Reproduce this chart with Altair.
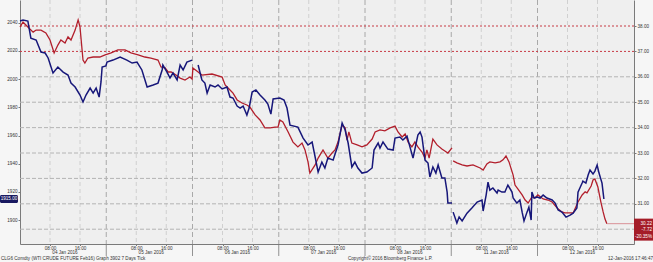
import altair as alt
import pandas as pd

# ---------------- data (hours from start of 04 Jan session; 23h per session) ----------------
blue_t = [0, 0.8, 2.1, 2.9, 4.3, 5.6, 6.7, 7.5, 8.8, 10.1, 11.5, 12.8, 13.6, 14.7, 16.0, 16.8, 17.6, 18.7, 19.5, 20.3,
          21.1, 21.6, 21.9, 22.9, 23.2, 24.8, 26.7, 28.5, 29.9, 31.2, 32.5, 33.9, 35.5, 36.8, 37.9, 38.1, 39.2, 40.0,
          40.8, 41.9, 42.7, 43.5, 44.5, 45.9,
          47.5, 48.5, 49.3, 49.9, 50.7, 52.0, 52.8, 53.9, 55.2, 56.0, 56.8, 57.9, 58.7, 59.5, 60.5, 61.1, 61.9, 62.9,
          64.0, 65.3, 66.1, 66.9, 67.5, 69.3, 70.4, 71.2, 72.0, 74.1, 75.5, 76.8, 77.9, 78.7, 79.5, 80.5, 81.3, 82.1,
          83.5, 84.8, 85.9, 86.7, 87.5, 88.5, 89.3, 90.1, 91.2, 92.5, 93.9, 94.4, 95.5, 96.0, 96.8, 98.1, 99.5, 100.0,
          101.3, 102.1, 103.2, 104.0, 104.8, 106.1, 106.7, 107.2, 108.0, 108.8, 109.3, 110.1, 110.9, 111.5, 112.5,
          113.3, 113.9, 114.1, 115.2,
          115.5, 116.5, 117.1, 117.9, 119.2, 120.5, 121.9, 123.2, 123.5, 124.3, 124.8, 125.3, 126.1, 127.2, 127.5,
          128.5, 129.3, 130.1, 131.2, 131.5, 132.5, 133.3, 133.9, 134.4, 135.2, 135.7, 136.3, 136.5, 137.1, 137.9,
          138.7, 139.5, 140.5, 141.9, 142.7, 143.5, 144.5, 145.6, 146.7, 147.5, 148.5, 148.8, 149.3, 149.9, 150.1,
          150.9, 151.5, 152.0, 152.8, 153.3, 153.9, 154.4, 155.2, 155.7]
blue_v = [2041.2, 2041.9, 2041.2, 2029.1, 2027.7, 2019.2, 2018.5, 2015.0, 2004.3, 2008.6, 2005.0, 2002.9, 1997.2,
          1994.4, 1988.7, 1983.8, 1988.7, 1993.7, 1990.1, 1993.7, 1987.3, 1998.0, 2008.6, 2009.3, 2012.1, 2013.5,
          2015.7, 2013.5, 2011.4, 2012.1, 2006.5, 1994.4, 1995.8, 1997.2, 2006.5, 2010.0, 2005.0, 2000.8, 2004.3,
          1999.4, 2010.0, 2006.5, 2012.1, 2013.5,
          2010.0, 1999.4, 1997.2, 1990.1, 1995.8, 1994.4, 1995.8, 1993.0, 1994.4, 1987.3, 1986.6, 1980.9, 1979.5,
          1980.9, 1974.5, 1979.5, 1990.8, 1992.3, 1988.7, 1985.2, 1982.3, 1975.2, 1985.9, 1986.6, 1985.2, 1979.5,
          1967.4, 1966.0, 1958.2, 1953.3, 1955.4, 1944.8, 1934.1, 1941.2, 1937.0, 1944.0, 1942.6, 1953.3, 1968.9,
          1963.9, 1954.7, 1937.7, 1941.2, 1937.0, 1933.4, 1934.1, 1937.0, 1949.7, 1954.7, 1951.1, 1955.4, 1950.4,
          1949.7, 1958.2, 1958.9, 1956.8, 1959.6, 1951.8, 1944.0, 1960.4, 1962.5, 1958.9, 1942.6, 1940.5, 1930.6,
          1937.7, 1933.4, 1939.1, 1929.9, 1929.9, 1919.9, 1912.1, 1912.1,
          1905.7, 1898.0, 1902.2, 1899.4, 1905.0, 1908.6, 1912.8, 1914.3, 1906.5, 1917.8, 1927.0, 1921.3, 1922.8,
          1919.2, 1921.3, 1919.9, 1919.9, 1924.9, 1919.9, 1915.7, 1912.1, 1914.3, 1905.7, 1899.4, 1905.7, 1909.3,
          1900.1, 1919.9, 1915.7, 1916.4, 1915.7, 1917.8, 1915.7, 1914.3, 1912.1, 1907.2, 1905.7, 1902.2, 1903.6,
          1905.0, 1908.6, 1919.9, 1922.8, 1926.3, 1927.7, 1926.3, 1932.0, 1935.5, 1932.7, 1934.8, 1939.1, 1933.4,
          1926.3, 1915.0]
blue_gap_after = [45.9, 115.2]

red_t = [0, 0.8, 2.1, 3.5, 4.3, 5.6, 6.9, 8.0, 9.1, 10.1, 10.9, 12.0, 12.8, 13.6, 14.7, 15.5, 16.0, 16.8, 17.3, 18.1,
         19.5, 21.3, 22.7,
         24.3, 26.1, 28.0, 29.6, 31.5, 33.3, 34.9, 36.8, 37.6, 38.7, 39.5, 40.3, 41.6, 42.7, 44.0, 45.3, 45.9,
         46.1, 47.5, 48.5, 51.2, 53.9, 54.7, 56.0, 56.8, 57.9, 59.2, 60.5, 61.3, 62.7, 64.0, 65.3, 66.7, 68.0, 68.8,
         69.3, 70.1, 71.5, 72.8, 74.1, 75.2, 76.0, 76.8, 77.3, 78.7, 79.5, 80.8, 82.1, 83.2, 84.0, 84.8, 85.9, 86.7,
         87.2, 87.7, 88.5, 89.9, 91.2, 92.5, 93.9, 94.7, 96.0, 97.3, 98.7, 100.0, 100.8, 101.9, 102.7, 103.5, 104.5,
         105.3, 106.1, 107.2, 108.0, 108.5, 109.1, 110.1, 111.2, 112.5, 113.3, 114.1, 115.2,
         115.5, 116.5, 117.9, 119.2, 120.8, 122.7, 123.5, 124.5, 125.3, 126.7, 128.0, 128.8, 129.6, 130.4, 131.5,
         132.0, 132.8, 133.9, 134.7, 135.5, 136.5, 137.3, 138.1, 139.5, 140.8, 141.9, 143.2, 144.5, 145.3, 146.7,
         147.5, 148.8, 149.9, 150.7, 151.2, 152.3, 152.8, 153.3, 154.1, 154.9, 155.5, 156.0, 156.5]
red_v = [37.96, 38.16, 37.96, 37.76, 37.84, 37.84, 37.73, 37.45, 36.94, 37.25, 37.45, 37.33, 37.57, 37.45, 37.84,
         38.24, 37.96, 36.66, 36.54, 36.74, 36.78, 36.78, 36.86,
         36.94, 37.06, 37.06, 36.94, 36.86, 36.78, 36.74, 36.66, 36.39, 36.35, 36.19, 36.19, 36.07, 35.95, 35.87,
         35.99, 35.91,
         36.35, 36.19, 36.07, 36.11, 35.99, 35.68, 35.48, 35.36, 35.09, 34.97, 34.89, 34.81, 34.50, 34.30, 33.99,
         33.99, 34.02, 34.02, 34.30, 34.22, 33.83, 33.43, 33.24, 33.39, 33.12, 32.65, 32.21, 32.53, 32.80, 33.12,
         32.80, 33.00, 33.12, 33.43, 34.10, 33.99, 33.51, 33.83, 33.39, 33.32, 33.24, 33.32, 33.55, 33.83, 33.91,
         33.87, 33.99, 34.06, 33.83, 33.63, 33.75, 33.43, 33.24, 33.43, 33.24, 33.04, 32.80, 33.12, 32.80, 33.55,
         33.32, 33.16, 33.08, 33.00, 33.20,
         32.69, 32.61, 32.53, 32.49, 32.53, 32.41, 32.33, 32.57, 32.65, 32.61, 32.65, 32.73, 32.88, 32.65, 32.13,
         31.74, 31.58, 31.35, 31.15, 31.03, 31.27, 31.23, 31.35, 31.19, 31.15, 31.07, 30.84, 30.68, 30.64, 30.64,
         30.64, 31.07, 31.35, 31.47, 31.43, 31.70, 31.94, 31.98, 31.66, 31.07, 30.68, 30.40, 30.22]
red_gap_after = [115.2]

last_t = [156.5, 163.73]
last_red = [30.22, 30.22]

blue_last = [1915.0]
blue_last_label = ["1915.00"]
red_last = [30.22]
red_last_label = ["30.22\n-7.72\n-20.35%"]

tick_t = [8, 16, 31, 39, 54, 62, 77, 85, 100, 108, 123, 131, 146, 154]
day_start = [23, 46, 69, 92, 115, 138]
day_mid = [12, 35, 58, 81, 104, 127, 150]
day_labels = ["04 Jan 2016", "05 Jan 2016", "06 Jan 2016", "07 Jan 2016",
              "08 Jan 2016", "11 Jan 2016", "12 Jan 2016"]
blue_ticks = [1900, 1920, 1940, 1960, 1980, 2000, 2020, 2040]
red_ticks = [31, 32, 33, 34, 35, 36, 37, 38]
grid_red = [30, 31, 32, 33, 34, 35, 36]
ref_red = [37, 38]
footer = ["CLG6 Comdty (WTI CRUDE FUTURE  Feb16) Graph 3902 7 Days  Tick",
          "Copyright\u00a9 2016 Bloomberg Finance L.P.",
          "12-Jan-2016 17:46:47"]

# ---------------- chart ----------------
W, H = 614, 244
FONT = "Liberation Sans"
NAVY = "#17177a"
RED = "#b21f2c"
FS = 4.6
xs = alt.Scale(domain=[0, 163.73], nice=False, zero=False)
bs = alt.Scale(domain=[1883.1, 2056.1], nice=False, zero=False)
rs = alt.Scale(domain=[29.418, 39.024], nice=False, zero=False)

blue_df = pd.DataFrame({"t": blue_t, "v": blue_v})
blue_df["seg"] = [sum(t > g for g in blue_gap_after) for t in blue_t]
red_df = pd.DataFrame({"t": red_t, "v": red_v})
red_df["seg"] = [sum(t > g for g in red_gap_after) for t in red_t]

axis_common = dict(title=None, grid=False, labelFontSize=FS, labelFont=FONT,
                   labelColor="#333333", domainColor="#7a7a7a", tickColor="#7a7a7a",
                   labelOverlap=False)

hgrid = alt.Chart(pd.DataFrame({"v": grid_red})).mark_rule(
    strokeDash=[4, 2], strokeWidth=1
).encode(x=alt.value(0), x2=alt.value(W), y=alt.Y("v:Q", scale=rs, axis=None),
         color=alt.value("#b4b4b4"))

refl = alt.Chart(pd.DataFrame({"v": ref_red})).mark_rule(
    strokeDash=[2, 2], strokeWidth=1
).encode(x=alt.value(0), x2=alt.value(W), y=alt.Y("v:Q", scale=rs, axis=None),
         color=alt.value("#c73a45"))

vgrid = alt.Chart(pd.DataFrame({"t": tick_t})).mark_rule(
    color="#c8c8c8", strokeDash=[4, 3], strokeWidth=0.8
).encode(x=alt.X("t:Q", scale=xs, axis=None), y=alt.value(0), y2=alt.value(H))

daysep = alt.Chart(pd.DataFrame({"t": day_start})).mark_rule(
    color="#a0a0a0", strokeDash=[5, 3], strokeWidth=0.9
).encode(x=alt.X("t:Q", scale=xs, axis=None), y=alt.value(0), y2=alt.value(H))

dayticks = alt.Chart(pd.DataFrame({"t": day_start})).mark_rule(
    color="#7a7a7a", strokeWidth=0.8
).encode(x=alt.X("t:Q", scale=xs, axis=None), y=alt.value(H), y2=alt.value(H + 12))

red = alt.Chart(red_df).mark_line(color=RED, strokeWidth=1.3).encode(
    x=alt.X("t:Q", scale=xs, axis=None),
    y=alt.Y("v:Q", scale=rs, axis=alt.Axis(
        orient="right", values=red_ticks, format=".2f",
        tickSize=2, labelPadding=1, **axis_common)),
    detail="seg:N", order="t:Q")

blue = alt.Chart(blue_df).mark_line(color=NAVY, strokeWidth=1.5).encode(
    x=alt.X("t:Q", scale=xs, axis=alt.Axis(
        values=tick_t, labelExpr="(datum.value % 23) < 12 ? '08:00' : '16:00'",
        tickSize=1.5, labelPadding=0, **axis_common)),
    y=alt.Y("v:Q", scale=bs, axis=alt.Axis(orient="left", values=blue_ticks, format="d",
                                           tickSize=2, labelPadding=1, **axis_common)),
    detail="seg:N", order="t:Q")

ext = alt.Chart(pd.DataFrame({"t": last_t, "v": last_red})).mark_line(
    color="#dc9aa0", strokeWidth=1.1
).encode(x=alt.X("t:Q", scale=xs, axis=None), y=alt.Y("v:Q", scale=rs, axis=None))

bdf = pd.DataFrame({"v": blue_last, "label": blue_last_label})
bbox = alt.Chart(bdf).mark_rect(color="#191960", yOffset=-4, y2Offset=4, cornerRadius=1.5).encode(
    x=alt.value(-20), x2=alt.value(-2), y=alt.Y("v:Q", scale=bs, axis=None), y2="v:Q")
btxt = alt.Chart(bdf).mark_text(color="white", fontSize=FS, font=FONT, align="center", baseline="middle").encode(
    x=alt.value(-11), y=alt.Y("v:Q", scale=bs, axis=None), text="label:N")

rdf = pd.DataFrame({"v": red_last, "label": red_last_label})
rbox = alt.Chart(rdf).mark_rect(color="#a51c28", yOffset=-5, y2Offset=17).encode(
    x=alt.value(W), x2=alt.value(W + 19), y=alt.Y("v:Q", scale=rs, axis=None), y2="v:Q")
rtxt = alt.Chart(rdf).mark_text(color="white", fontSize=FS, font=FONT, align="right", baseline="middle",
                                lineBreak="\n", lineHeight=6.5).encode(
    x=alt.value(W + 18), y=alt.Y("v:Q", scale=rs, axis=None), text="label:N")

daylab = alt.Chart(pd.DataFrame({"t": day_mid, "label": day_labels})).mark_text(
    fontSize=FS, font=FONT, color="#333333", align="center", baseline="middle"
).encode(x=alt.X("t:Q", scale=xs, axis=None), y=alt.value(H + 9.3), text="label:N")

fdf = pd.DataFrame({"label": footer})
f1 = alt.Chart(fdf).transform_filter(alt.datum.label == footer[0]).mark_text(
    fontSize=FS, font=FONT, color="#333333", align="left", baseline="middle"
).encode(x=alt.value(-19), y=alt.value(H + 14.8), text="label:N")
f2 = alt.Chart(fdf).transform_filter(alt.datum.label == footer[1]).mark_text(
    fontSize=FS, font=FONT, color="#333333", align="left", baseline="middle"
).encode(x=alt.value(328), y=alt.value(H + 14.8), text="label:N")
f3 = alt.Chart(fdf).transform_filter(alt.datum.label == footer[2]).mark_text(
    fontSize=FS, font=FONT, color="#333333", align="right", baseline="middle"
).encode(x=alt.value(W + 19), y=alt.value(H + 14.8), text="label:N")

chart = alt.layer(
    vgrid, daysep, dayticks, hgrid, refl, red, blue, ext, bbox, btxt, rbox, rtxt, daylab, f1, f2, f3
).resolve_scale(y="independent").resolve_axis(x="independent", y="independent").properties(
    width=W, height=H,
    padding={"left": 20, "top": 0, "right": 19, "bottom": 18},
    autosize=alt.AutoSizeParams(type="none"),
    background="#f6f6f6",
).configure_view(fill="#efefef", strokeWidth=0)

chart.save("out.html", embed_options={"renderer": "svg", "actions": False})
